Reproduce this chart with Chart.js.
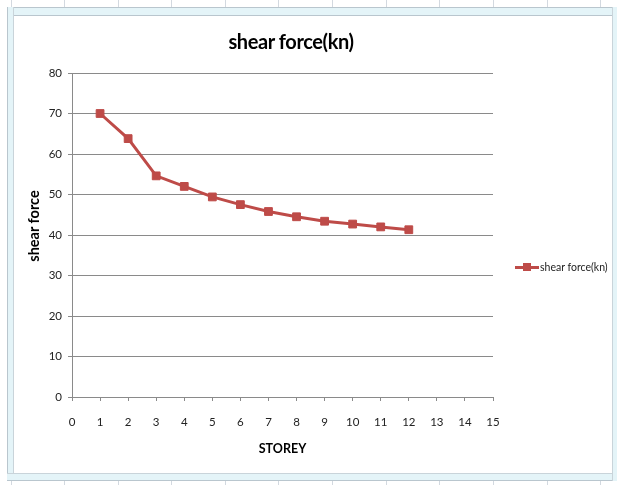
<!DOCTYPE html>
<html>
<head>
<meta charset="utf-8">
<script src="https://cdn.jsdelivr.net/npm/chart.js@4/dist/chart.umd.min.js"></script>
<style>
  html, body { margin:0; padding:0; background:#fff; }
  #page { position:relative; width:617px; height:485px; overflow:hidden; background:#fff; font-family: Lato, "Open Sans", sans-serif; }
  .vl { position:absolute; width:1px; background:#d3d9e0; }
  .band { position:absolute; background:#e4f4f8; box-sizing:border-box; }
  #wrap { position:absolute; left:13px; top:15px; width:599px; height:459px; }
  #title { position:absolute; left:191px; width:200px; top:28px; text-align:center; font-weight:bold; font-size:20px; letter-spacing:-0.4px; color:#000; line-height:26px; }
  #ytitle { position:absolute; left:34px; top:226px; width:120px; height:18px; margin-left:-60px; margin-top:-9px; text-align:center; transform:rotate(-90deg); transform-origin:50% 50%; font-weight:bold; font-size:14.5px; line-height:18px; color:#000; }
  #legend { position:absolute; left:515px; top:259px; height:16px; width:100px; }
  #legend .ln { position:absolute; left:0; top:6.5px; width:24px; height:3px; background:#BE4B48; }
  #legend .mk { position:absolute; left:8px; top:4px; width:8px; height:8px; background:#BE4B48; }
  #legend .tx { position:absolute; left:25px; top:0; font-size:10.5px; line-height:16px; color:#222; white-space:nowrap; }
</style>
</head>
<body>
<div id="page">
  <div id="frame"></div>
  <div id="wrap"><canvas id="c"></canvas></div>
  <div id="title">shear force(kn)</div>
  <div id="ytitle">shear force</div>
  <div id="legend"><div class="ln"></div><div class="mk"></div><div class="tx">shear force(kn)</div></div>
</div>
<script>
// ---- data ----
const storeys = [1, 2, 3, 4, 5, 6, 7, 8, 9, 10, 11, 12];
const shearForce = [70, 63.8, 54.6, 52, 49.4, 47.5, 45.8, 44.5, 43.4, 42.7, 42, 41.3];
const seriesName = 'shear force(kn)';
const xAxisTitle = 'STOREY';
const xRange = [0, 15];
const yRange = [0, 80];

// ---- frame decoration (spreadsheet look) ----
const frame = document.getElementById('frame');
function addDiv(cls, css) { const d = document.createElement('div'); d.className = cls; Object.assign(d.style, css); frame.appendChild(d); }
[11, 64, 118, 171, 225, 278, 332, 386, 439, 493, 547, 600].forEach(x => {
  addDiv('vl', { left: x + 'px', top: '0px', height: '8px' });
  addDiv('vl', { left: x + 'px', top: '480px', height: '5px' });
});
addDiv('band', { left: '7px', top: '7px', width: '610px', height: '9px', borderTop: '1px solid #b9c6ce', borderBottom: '1px solid #b9c6ce' });
addDiv('band', { left: '7px', top: '7px', width: '7px', height: '474px', borderLeft: '1px solid #b9c6ce', borderRight: '1px solid #c9d4da' });
addDiv('band', { left: '7px', top: '473px', width: '610px', height: '8px', borderTop: '1px solid #c9d4da', borderBottom: '1px solid #b9c6ce' });
addDiv('band', { left: '612px', top: '7px', width: '5px', height: '474px', borderLeft: '1px solid #c9d4da' });

// ---- chart ----
const points = storeys.map((s, i) => ({ x: s, y: shearForce[i] }));
const red = '#BE4B48';
const gridColor = '#8a8a8a';

new Chart(document.getElementById('c'), {
  type: 'line',
  data: {
    datasets: [{
      label: seriesName,
      data: points,
      borderColor: red,
      backgroundColor: red,
      borderWidth: 3,
      pointStyle: 'rect',
      pointRadius: 5.5,
      pointBorderWidth: 1,
      pointBackgroundColor: red,
      pointBorderColor: red,
      tension: 0,
      fill: false
    }]
  },
  options: {
    responsive: true,
    maintainAspectRatio: false,
    animation: false,
    layout: { padding: { left: 0, top: 58, right: 119, bottom: 0 } },
    plugins: { legend: { display: false }, title: { display: false }, tooltip: { enabled: false } },
    scales: {
      x: {
        type: 'linear',
        min: xRange[0], max: xRange[1],
        afterFit: s => { s.height = 77; },
        ticks: { stepSize: 1, padding: 14, color: '#222', font: { family: 'Lato', size: 11.5 } },
        grid: { drawOnChartArea: false, drawTicks: true, tickLength: 4, color: gridColor },
        border: { color: gridColor, width: 1 },
        title: { display: true, text: xAxisTitle, color: '#000', font: { family: 'Lato', size: 12.5, weight: 'bold' }, padding: { top: 0, bottom: 18 } }
      },
      y: {
        min: yRange[0], max: yRange[1],
        afterFit: s => { s.width = 59; },
        ticks: { stepSize: 10, padding: 6, color: '#222', font: { family: 'Lato', size: 11.5 } },
        grid: { drawTicks: true, tickLength: 4, color: gridColor },
        border: { color: gridColor, width: 1 }
      }
    }
  }
});
</script>
</body>
</html>
